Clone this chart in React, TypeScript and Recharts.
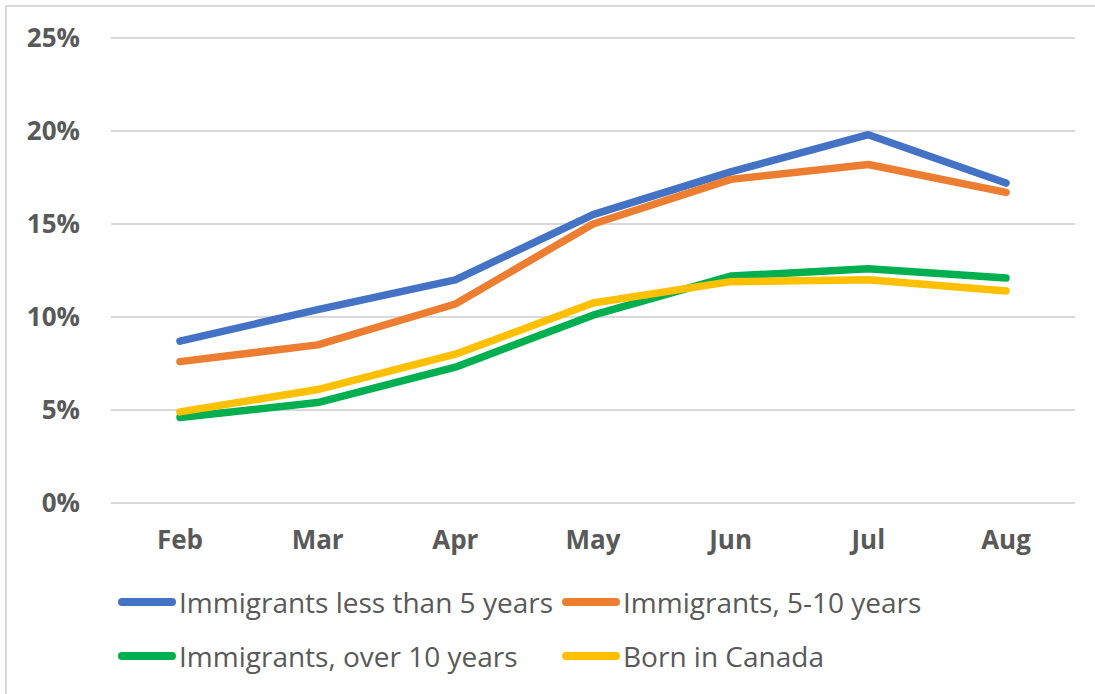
import React from 'react';
import { LineChart, Line, XAxis, YAxis, CartesianGrid } from 'recharts';

const months = ['Feb', 'Mar', 'Apr', 'May', 'Jun', 'Jul', 'Aug'];
const recentImmigrants = [8.7, 10.4, 12.0, 15.5, 17.8, 19.8, 17.2];
const midImmigrants = [7.6, 8.5, 10.7, 15.0, 17.4, 18.2, 16.7];
const longImmigrants = [4.6, 5.4, 7.3, 10.1, 12.2, 12.6, 12.1];
const bornInCanada = [4.9, 6.1, 8.0, 10.75, 11.9, 12.0, 11.4];
const yTicks = [0, 5, 10, 15, 20, 25];

const SERIES = [
  { key: 'recent', name: 'Immigrants less than 5 years', color: '#4472C4', values: recentImmigrants },
  { key: 'mid', name: 'Immigrants, 5-10 years', color: '#ED7D31', values: midImmigrants },
  { key: 'long', name: 'Immigrants, over 10 years', color: '#00B050', values: longImmigrants },
  { key: 'born', name: 'Born in Canada', color: '#FFC000', values: bornInCanada },
];

const data = months.map((m, i) => {
  const row: { [k: string]: string | number } = { month: m };
  SERIES.forEach(s => { row[s.key] = s.values[i]; });
  return row;
});

const FONT = '"Open Sans", sans-serif';
const TEXT = '#595959';

// legend drawn as plain html, two columns like the excel original
const LegendBox = () => (
  <div style={{ position: 'absolute', left: 0, top: 581, width: 1095, height: 100 }}>
    {SERIES.map((s, i) => (
      <div
        key={s.key}
        style={{
          position: 'absolute',
          left: i % 2 === 0 ? 118 : 562,
          top: i < 2 ? 0 : 54,
          display: 'flex',
          alignItems: 'center',
          fontFamily: FONT,
          fontSize: 28,
          color: TEXT,
          whiteSpace: 'nowrap',
          height: 42,
        }}
      >
        <span style={{ display: 'inline-block', width: 58, height: 8, borderRadius: 4, background: s.color, marginRight: 3 }} />
        {s.name}
      </div>
    ))}
  </div>
);

export default function App() {
  return (
    <div style={{ position: 'absolute', left: 0, top: 0, width: 1095, height: 694, background: '#fff', overflow: 'hidden' }}>
      <div style={{ position: 'absolute', left: 5, top: 5, width: 1090, height: 689, borderLeft: '2px solid #d9d9d9', borderTop: '2px solid #d9d9d9' }} />
      <LineChart width={1095} height={694} data={data} margin={{ top: 38, right: 20, left: 0, bottom: 161 }}>
        <CartesianGrid vertical={false} stroke="#d9d9d9" strokeWidth={2} />
        <XAxis
          dataKey="month"
          axisLine={false}
          tickLine={false}
          tickSize={0}
          tickMargin={28}
          padding={{ left: 69, right: 69 }}
          tick={{ fill: TEXT, fontSize: 26, fontWeight: 700, fontFamily: FONT }}
        />
        <YAxis
          width={111}
          domain={[0, 25]}
          ticks={yTicks}
          axisLine={false}
          tickLine={false}
          tickSize={0}
          tickMargin={31}
          tickFormatter={(v: number) => `${v}%`}
          tick={{ fill: TEXT, fontSize: 26, fontWeight: 700, fontFamily: FONT }}
        />
        {SERIES.map(s => (
          <Line
            key={s.key}
            dataKey={s.key}
            name={s.name}
            stroke={s.color}
            strokeWidth={7.5}
            strokeLinecap="round"
            strokeLinejoin="round"
            dot={false}
            activeDot={false}
            isAnimationActive={false}
          />
        ))}
      </LineChart>
      <LegendBox />
    </div>
  );
}
